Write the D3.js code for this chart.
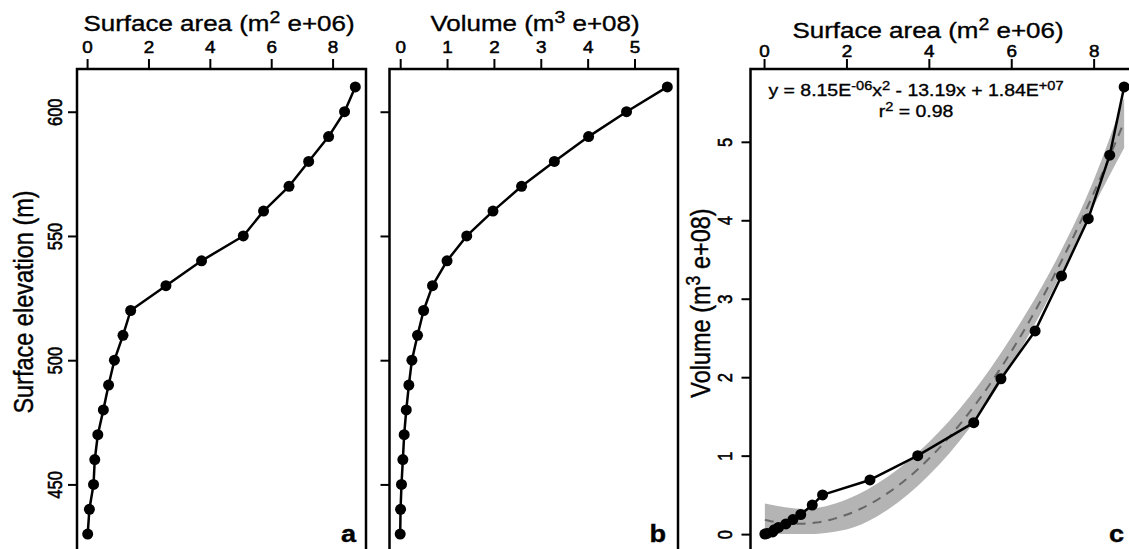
<!DOCTYPE html>
<html>
<head>
<meta charset="utf-8">
<script src="https://cdn.jsdelivr.net/npm/d3@7"></script>
<style>
  body { margin: 0; background: #fff; }
  svg { display: block; }
  text { stroke: #000; stroke-width: 0.35px; }
  .tick text { stroke-width: 0.5px; }
</style>
</head>
<body>
<svg width="1129" height="549"></svg>
<script>
// lake hypsometry
const elevation = [430, 440, 450, 460, 470, 480, 490, 500, 510, 520, 530, 540, 550, 560, 570, 580, 590, 600, 610]
const surfaceArea = [0.02, 0.075, 0.21, 0.25, 0.35, 0.53, 0.70, 0.89, 1.17, 1.42, 2.57, 3.73, 5.09, 5.75, 6.58, 7.22, 7.87, 8.39, 8.74]
const volume = [0, 0.008, 0.028, 0.057, 0.085, 0.13, 0.185, 0.25, 0.37, 0.50, 0.69, 1.00, 1.42, 1.98, 2.59, 3.29, 4.02, 4.83, 5.70]

const areaTicks = [0, 2, 4, 6, 8]
const volumeTicks = [0, 1, 2, 3, 4, 5]
const elevationTicks = [450, 500, 550, 600]

// printed fit y = 8.15E-06x^2 - 13.19x + 1.84E+07 (m2 -> m3), rescaled to e+06 / e+08 units
const fitCoef = [1.84e7 / 1e8, -13.19 * 1e6 / 1e8, 8.15e-6 * 1e12 / 1e8]

// grey confidence band, edges
const bandArea = [0.02, 1, 2, 3, 4, 5, 6, 7, 8, 8.74]
const bandLow = [0.0, 0.0, 0.06, 0.31, 0.75, 1.36, 2.15, 3.10, 4.18, 4.92]
const bandHigh = [0.39, 0.32, 0.44, 0.73, 1.17, 1.76, 2.51, 3.40, 4.51, 5.56]

const FONT = '"Liberation Sans", Arial, Helvetica, sans-serif'
const SX = 1.18 // the source figure is stretched sideways
const plotTop = 69, plotBottom = 552

const svg = d3.select('svg')

// R style axis limits, 4% padding
function pad(ext) {
  const d = (ext[1] - ext[0]) * 0.04
  return [ext[0] - d, ext[1] + d]
}

const pairs = elevation.map((e, i) => ({ e, a: surfaceArea[i], v: volume[i] }))

const yElev = d3.scaleLinear().domain(pad(d3.extent(elevation))).range([plotBottom, plotTop])
const yVol = d3.scaleLinear().domain(pad(d3.extent(volume))).range([plotBottom, plotTop])
const xAreaA = d3.scaleLinear().domain(pad(d3.extent(surfaceArea))).range([77, 366])
const xVolB = d3.scaleLinear().domain(pad(d3.extent(volume))).range([389.5, 678])
const xAreaC = d3.scaleLinear().domain(pad(d3.extent(surfaceArea))).range([750.5, 1138.5])

// text with superscripts, stretched horizontally
function richText(parent, x, y, parts, size, opts = {}) {
  const rot = opts.rotate ? ` rotate(-90) scale(1,${SX})` : ` scale(${SX},1)`
  const t = parent.append('text')
    .attr('transform', `translate(${x},${y})` + rot)
    .attr('text-anchor', opts.anchor || 'middle')
    .attr('font-family', FONT)
    .attr('font-size', size)
    .attr('font-weight', opts.bold ? 'bold' : null)
    .attr('fill', '#000')
  let raised = false
  parts.forEach(p => {
    const sup = typeof p !== 'string'
    const s = t.append('tspan').text(sup ? p.sup : p)
    if (sup) {
      s.attr('font-size', size * 0.75).attr('dy', -size * 0.36)
      raised = true
    } else if (raised) {
      s.attr('dy', size * 0.36)
      raised = false
    }
  })
  return t
}

function topAxis(x, ticks, gap) {
  const g = svg.append('g')
    .attr('transform', `translate(0,${plotTop})`)
    .call(d3.axisTop(x).tickValues(ticks).tickSize(10).tickPadding(gap).tickFormat(d3.format('d')))
  g.attr('font-family', FONT).attr('font-size', 16)
  g.select('.domain').remove()
  g.selectAll('line').attr('stroke', '#000').attr('stroke-width', 2)
  g.selectAll('text').attr('fill', '#000').attr('transform', `scale(${SX},1)`)
}

function leftAxis(x0, y, ticks, gap, labels) {
  const g = svg.append('g')
    .attr('transform', `translate(${x0},0)`)
    .call(d3.axisLeft(y).tickValues(ticks).tickSize(9).tickFormat(labels ? d3.format('d') : ''))
  g.attr('font-family', FONT).attr('font-size', 16.5)
  g.select('.domain').remove()
  g.selectAll('line').attr('stroke', '#000').attr('stroke-width', 2)
  g.selectAll('text')
    .attr('fill', '#000')
    .attr('x', null).attr('dy', null)
    .attr('y', -gap / SX)
    .attr('text-anchor', 'middle')
    .attr('transform', `rotate(-90) scale(1,${SX})`)
}

function frame(x) {
  svg.append('rect')
    .attr('x', x.range()[0]).attr('y', plotTop)
    .attr('width', x.range()[1] - x.range()[0]).attr('height', plotBottom - plotTop)
    .attr('fill', 'none').attr('stroke', '#000').attr('stroke-width', 2.5)
}

function series(x, y, xk, yk) {
  const line = d3.line().x(d => x(d[xk])).y(d => y(d[yk]))
  svg.append('path').datum(pairs)
    .attr('d', line)
    .attr('fill', 'none').attr('stroke', '#000').attr('stroke-width', 2.5)
    .attr('stroke-linejoin', 'round')
  svg.append('g').selectAll('circle').data(pairs).join('circle')
    .attr('cx', d => x(d[xk])).attr('cy', d => y(d[yk]))
    .attr('r', 5.5).attr('fill', '#000')
}

// ---- panel a
series(xAreaA, yElev, 'a', 'e')
frame(xAreaA)
topAxis(xAreaA, areaTicks, 6)
leftAxis(77, yElev, elevationTicks, 15, true)
richText(svg, 219, 30.5, ['Surface area (m', { sup: '2' }, ' e+06)'], 22)
richText(svg, 33, 302, ['Surface elevation (m)'], 23.5, { rotate: true })
richText(svg, 356, 542, ['a'], 23, { anchor: 'end', bold: true })

// ---- panel b
series(xVolB, yElev, 'v', 'e')
frame(xVolB)
topAxis(xVolB, volumeTicks, 6)
leftAxis(389.5, yElev, elevationTicks, 15, false)
richText(svg, 535, 30.5, ['Volume (m', { sup: '3' }, ' e+08)'], 22)
richText(svg, 666, 542, ['b'], 23, { anchor: 'end', bold: true })

// ---- panel c: quadratic fit with its confidence band
const fit = a => fitCoef[0] + fitCoef[1] * a + fitCoef[2] * a * a
const band = bandArea.map((a, i) => ({ a, lo: bandLow[i], hi: bandHigh[i] }))
const [aMin, aMax] = d3.extent(surfaceArea)
const curve = d3.range(0, 121).map(i => {
  const a = aMin + (aMax - aMin) * i / 120
  return { a, f: fit(a) }
})

const cg = svg.append('g')
cg.append('path').datum(band)
  .attr('d', d3.area().curve(d3.curveMonotoneX)
    .x(d => xAreaC(d.a)).y0(d => yVol(d.lo)).y1(d => yVol(d.hi)))
  .attr('fill', '#b4b4b4')
cg.append('path').datum(curve)
  .attr('d', d3.line().x(d => xAreaC(d.a)).y(d => yVol(d.f)))
  .attr('fill', 'none').attr('stroke', '#676767').attr('stroke-width', 2)
  .attr('stroke-dasharray', '9,7')

series(xAreaC, yVol, 'a', 'v')
frame(xAreaC)
topAxis(xAreaC, areaTicks, 2)
leftAxis(750.5, yVol, volumeTicks, 18.5, true)
richText(svg, 928, 37.5, ['Surface area (m', { sup: '2' }, ' e+06)'], 22)
richText(svg, 710, 303, ['Volume (m', { sup: '3' }, ' e+08)'], 23.5, { rotate: true })
richText(svg, 1124, 542, ['c'], 23, { anchor: 'end', bold: true })

richText(svg, 916, 96, ['y = 8.15E', { sup: '-06' }, 'x', { sup: '2' }, ' - 13.19x + 1.84E', { sup: '+07' }], 16.5)
richText(svg, 916, 116.5, ['r', { sup: '2' }, ' = 0.98'], 16.5)
</script>
</body>
</html>
